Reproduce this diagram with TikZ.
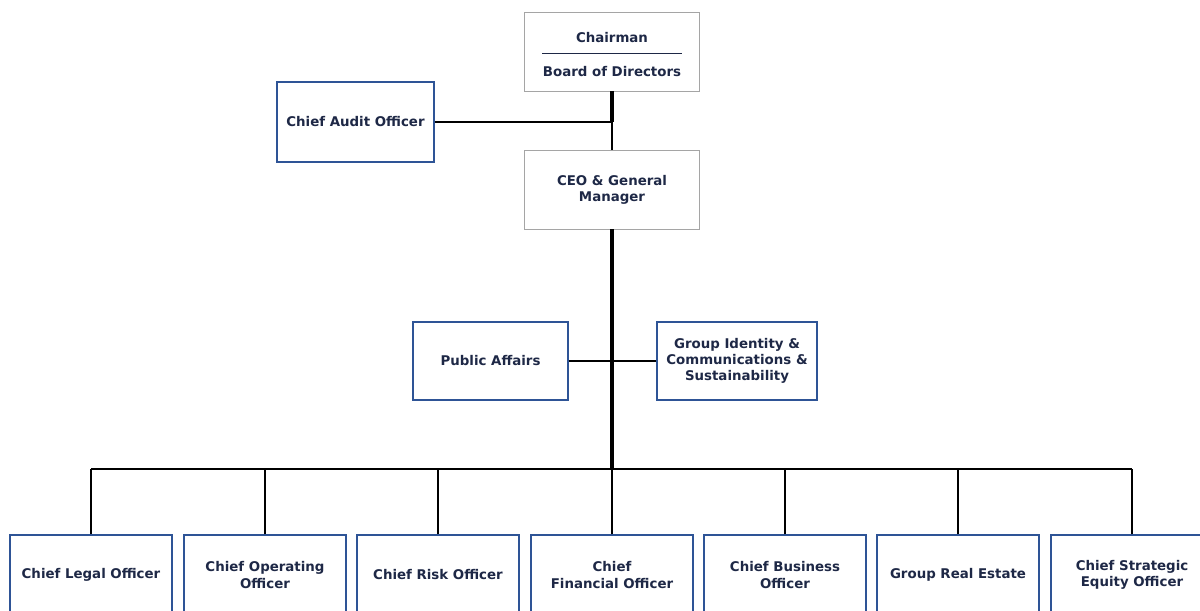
\documentclass[tikz,border=0pt]{standalone}
\usepackage{fontspec}
\setmainfont{DejaVu Sans}

\definecolor{boxblue}{RGB}{46,84,150}
\definecolor{boxgray}{RGB}{165,165,165}
\definecolor{textnavy}{RGB}{30,40,70}

\tikzset{
  unit/.style={draw=boxblue, line width=1pt, fill=white, minimum width=4.05cm,
    minimum height=2cm, align=center, text=textnavy, inner sep=2pt,
    font=\fontsize{9.5}{11.4}\selectfont\bfseries},
  head/.style={unit, draw=boxgray, line width=0.6pt, minimum width=4.375cm, minimum height=1.975cm},
  label/.style={text=textnavy, inner sep=0pt, font=\fontsize{9.5}{11.4}\selectfont\bfseries},
  link/.style={line width=1.1pt},
  trunk/.style={line width=2.2pt}
}

\begin{document}
\begin{tikzpicture}[x=0.025cm,y=-0.025cm]
\useasboundingbox (0,0) rectangle (1200,610);
\clip (0,0) rectangle (1200,610);

% Top of the chart
\node[head] (chair) at (612,51.5) {};
\node[label] (chairtxt) at (612,38) {Chairman};
\node[label] (boardtxt) at (612,72) {Board of Directors};
\draw[textnavy, line width=0.7pt] (542,53) -- (682,53);

\node[head] (ceo) at (612,189.5) {CEO \& General\\Manager};
\node[unit, minimum width=3.925cm] (audit) at (355.5,122) {Chief Audit Officer};

\coordinate (auditj) at (612,122);
\draw[trunk] (chair.south) -- (auditj);
\draw[link] (auditj) -- (ceo.north);
\draw[link] (audit.east) -- (auditj);

% Staff units
\node[unit, minimum width=3.875cm, minimum height=1.95cm] (pa) at (490.5,361) {Public Affairs};
\node[unit, minimum width=4cm, minimum height=1.95cm] (gic) at (737,361)
  {Group Identity \&\\Communications \&\\Sustainability};
\draw[link] (pa.east) -- (gic.west);

% Bus
\coordinate (bus) at (612,469);
\draw[trunk] (ceo.south) -- (bus);

% Chiefs
\foreach \name/\x/\txt in {legal/91/Chief Legal Officer,
    coo/265/{Chief Operating\\Officer},
    risk/438/Chief Risk Officer,
    cfo/612/{Chief\\Financial Officer},
    cbo/785/{Chief Business\\Officer},
    realestate/958/Group Real Estate,
    cseo/1132/{Chief Strategic\\Equity Officer}} {
    \node[unit] (\name) at (\x,575) {\txt};
    \draw[link] (\name.north) -- (\name.north |- bus);
}
\draw[link] (legal.north |- bus) -- (cseo.north |- bus);

\end{tikzpicture}
\end{document}
